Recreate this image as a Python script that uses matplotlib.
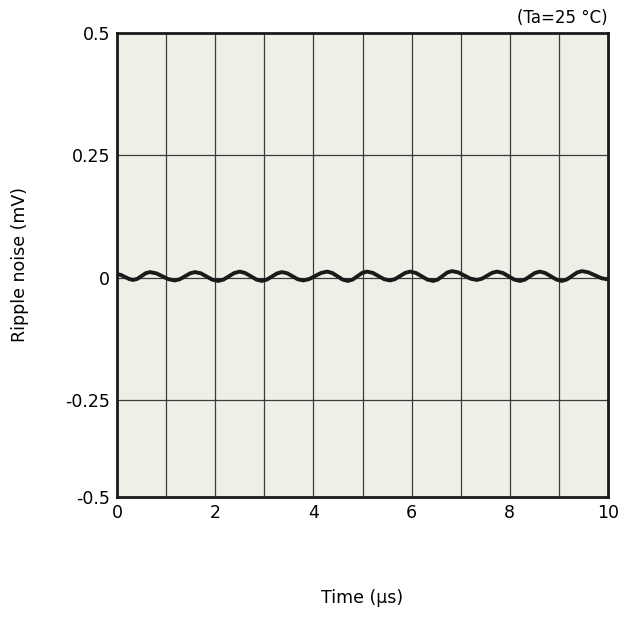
import matplotlib
matplotlib.use("Agg")
import matplotlib.pyplot as plt

# ripple waveform (time in us, ripple in mV)
time_us = [
    0.0, 0.08, 0.165, 0.25, 0.33, 0.415, 0.50, 0.585, 0.67,
    0.80, 0.925, 1.05, 1.18, 1.28, 1.385, 1.49, 1.59,
    1.71, 1.825, 1.94, 2.06, 2.17, 2.28, 2.39, 2.50,
    2.61, 2.725, 2.84, 2.95, 3.05, 3.155, 3.26, 3.36,
    3.47, 3.575, 3.68, 3.79, 3.91, 4.035, 4.16, 4.28,
    4.385, 4.49, 4.595, 4.70, 4.80, 4.895, 4.99, 5.09,
    5.21, 5.325, 5.44, 5.56, 5.66, 5.765, 5.87, 5.97,
    6.09, 6.205, 6.32, 6.44, 6.535, 6.63, 6.725, 6.82,
    6.95, 7.075, 7.20, 7.33, 7.43, 7.535, 7.64, 7.74,
    7.86, 7.975, 8.09, 8.21, 8.31, 8.41, 8.51, 8.61,
    8.72, 8.835, 8.95, 9.06, 9.16, 9.265, 9.37, 9.47,
    9.60, 9.735, 9.87, 10.0,
]
ripple_mv = [
    0.008, 0.0062, 0.002, -0.0022, -0.004, -0.0017, 0.004, 0.0097, 0.012,
    0.0095, 0.0035, -0.0025, -0.005, -0.0025, 0.0035, 0.0095, 0.012,
    0.0094, 0.003, -0.0034, -0.006, -0.0032, 0.0035, 0.0102, 0.013,
    0.0102, 0.0035, -0.0032, -0.006, -0.0034, 0.003, 0.0094, 0.012,
    0.0095, 0.0035, -0.0025, -0.005, -0.0024, 0.004, 0.0104, 0.013,
    0.0102, 0.0035, -0.0032, -0.006, -0.0032, 0.0035, 0.0102, 0.013,
    0.0104, 0.004, -0.0024, -0.005, -0.0024, 0.004, 0.0104, 0.013,
    0.0102, 0.0035, -0.0032, -0.006, -0.0031, 0.004, 0.0111, 0.014,
    0.0114, 0.005, -0.0014, -0.004, -0.0015, 0.0045, 0.0105, 0.013,
    0.0102, 0.0035, -0.0032, -0.006, -0.0032, 0.0035, 0.0102, 0.013,
    0.0102, 0.0035, -0.0032, -0.006, -0.0031, 0.004, 0.0111, 0.014,
    0.0115, 0.0055, -0.0005, -0.003,
]

x_ticks = [0, 2, 4, 6, 8, 10]
y_grid = [-0.25, 0, 0.25]
y_tick_labels = ["-0.5", "-0.25", "0", "0.25", "0.5"]

# the original's bottom band is cut short: the "-0.5" label sits on the frame
y_bottom = -0.447

fig = plt.figure(figsize=(6.23, 6.20), dpi=100)
ax = fig.add_axes([117 / 623, 1 - 497 / 620, 491 / 623, 464 / 620])
ax.set_facecolor("#f0efe7")

# grid: every 1 us vertically, every 0.25 mV horizontally
for xv in range(1, 10):
    ax.axvline(xv, color="#3a3a3a", linewidth=0.9, zorder=1)
for yv in y_grid:
    ax.axhline(yv, color="#3a3a3a", linewidth=0.9, zorder=1)

ax.plot(time_us, ripple_mv, color="#1a1a1a", linewidth=2.8, zorder=3,
        solid_joinstyle="round")

ax.set_xlim(0, 10)
ax.set_ylim(y_bottom, 0.5)
ax.set_xticks(x_ticks)
ax.set_yticks([y_bottom] + y_grid + [0.5])
ax.set_yticklabels(y_tick_labels)
ax.tick_params(length=0, labelsize=12.5, pad=5)

for sp in ax.spines.values():
    sp.set_linewidth(2)
    sp.set_color("#1a1a1a")

ax.set_xlabel("Time (µs)", fontsize=12.5, labelpad=48)
ax.set_ylabel("Ripple noise (mV)", fontsize=12.5, labelpad=26)
ax.text(1.0, 1.012, "(Ta=25 °C)", transform=ax.transAxes, ha="right",
        va="bottom", fontsize=12)

fig.savefig("out.png", dpi=100)
